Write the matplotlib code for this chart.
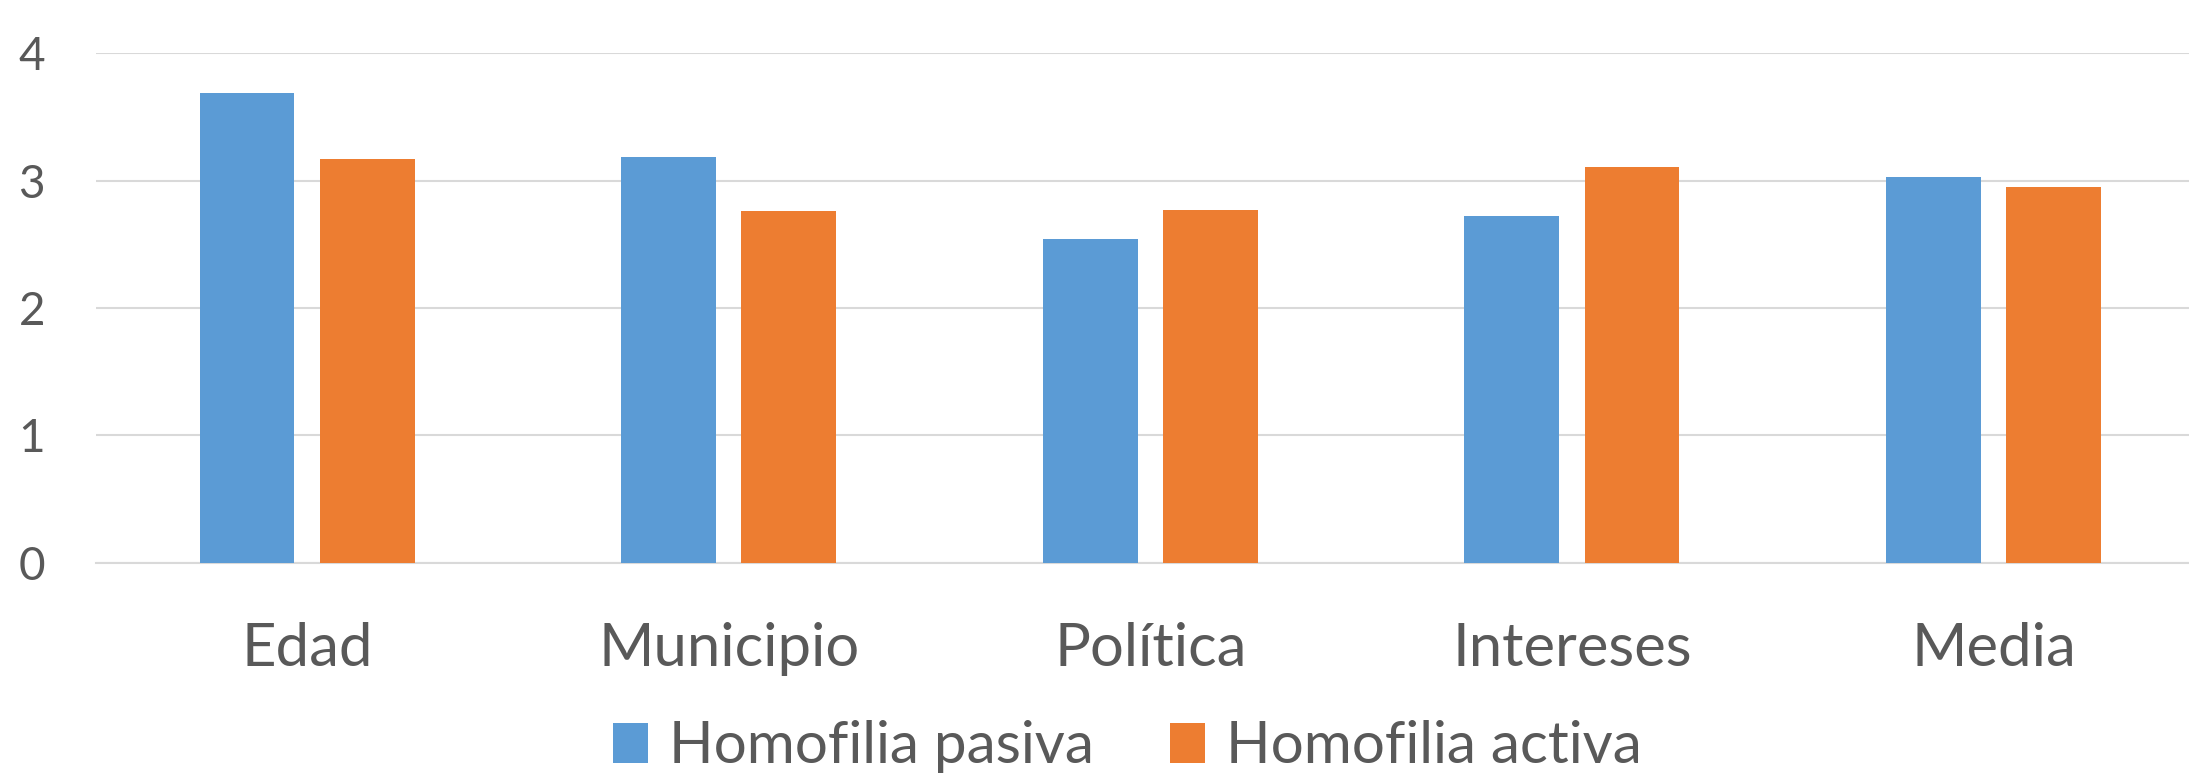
import numpy as np
import matplotlib.pyplot as plt

plt.rcParams['font.family'] = ['Lato', 'DejaVu Sans']

# datos
categorias = ['Edad', 'Municipio', 'Política', 'Intereses', 'Media']
pasiva = [3.69, 3.19, 2.54, 2.72, 3.03]
activa = [3.17, 2.76, 2.77, 3.11, 2.95]
series = ['Homofilia pasiva', 'Homofilia activa']

azul = '#5B9BD5'
naranja = '#ED7D31'
gris_texto = '#595959'
gris_linea = '#D9D9D9'

fig = plt.figure(figsize=(21.89, 7.73), dpi=100)
ax = fig.add_axes([0.044, 0.2723, 0.963, 0.6585])

x = np.arange(len(categorias))
ancho = 0.225
desp = ancho / 2 + 0.03
ax.bar(x - desp, pasiva, ancho, color=azul, label=series[0], zorder=3)
ax.bar(x + desp, activa, ancho, color=naranja, label=series[1], zorder=3)

ax.set_xlim(-0.5, len(categorias) - 0.5)
ax.set_ylim(0, 4)
ax.set_yticks([0, 1, 2, 3, 4])
ax.set_xticks(x)
ax.set_xticklabels(categorias)

ax.grid(axis='y', color=gris_linea, linewidth=1.5, zorder=0)
for lado in ['top', 'right', 'left']:
    ax.spines[lado].set_visible(False)
ax.spines['bottom'].set_color(gris_linea)
ax.spines['bottom'].set_linewidth(1.5)

ax.tick_params(axis='y', length=0, pad=37, labelsize=33, labelcolor=gris_texto)
ax.tick_params(axis='x', length=0, pad=43, labelsize=43, labelcolor=gris_texto)

fig.legend(loc='center', bbox_to_anchor=(0.515, 0.034), ncol=2, frameon=False,
           fontsize=42, labelcolor=gris_texto, handlelength=0.6, handleheight=0.68,
           handletextpad=0.37, columnspacing=1.3)

fig.savefig('out.png', dpi=100)
